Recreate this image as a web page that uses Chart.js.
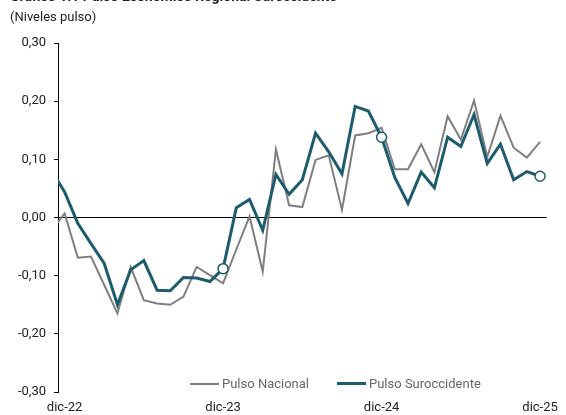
<!DOCTYPE html>
<html>
<head>
<meta charset="utf-8">
<script src="https://cdn.jsdelivr.net/npm/chart.js@4.4.1/dist/chart.umd.min.js"></script>
<style>
	body { margin: 0; width: 566px; height: 415px; overflow: hidden; background: #fff; font-family: Roboto, "Noto Sans", sans-serif; position: relative; }
	#wrap { position: absolute; left: 0; top: 0; width: 566px; height: 415px; }
	.title { position: absolute; left: 10px; top: -12px; font-size: 14px; font-weight: bold; color: #222; white-space: nowrap; }
	.sub { position: absolute; left: 10px; top: 9px; font-size: 13px; color: #222; }
	.legend { position: absolute; top: 376px; font-size: 13px; color: #666; white-space: nowrap; }
	.legend span.ln { display: inline-block; width: 29px; vertical-align: middle; margin-right: 3px; position: relative; top: -1px; }
</style>
</head>
<body>
<div id="wrap"><canvas id="chart" width="566" height="415"></canvas></div>
<div class="title">Gráfico 1.1 Pulso Económico Regional Suroccidente</div>
<div class="sub">(Niveles pulso)</div>
<div class="legend" style="left:190px"><span class="ln" style="border-top:2px solid #7f7f7f"></span>Pulso Nacional</div>
<div class="legend" style="left:337px"><span class="ln" style="border-top:3px solid #1d5c6e"></span>Pulso Suroccidente</div>
<script>
// meses (nov-22 queda recortado a la izquierda del eje)
const meses = [
	"nov-22", "dic-22",
	"ene-23", "feb-23", "mar-23", "abr-23", "may-23", "jun-23", "jul-23", "ago-23", "sep-23", "oct-23", "nov-23", "dic-23",
	"ene-24", "feb-24", "mar-24", "abr-24", "may-24", "jun-24", "jul-24", "ago-24", "sep-24", "oct-24", "nov-24", "dic-24",
	"ene-25", "feb-25", "mar-25", "abr-25", "may-25", "jun-25", "jul-25", "ago-25", "sep-25", "oct-25", "nov-25", "dic-25"
];

const pulsoNacional = [
	-0.023, 0.007,
	-0.069, -0.067, -0.116, -0.165, -0.085, -0.142, -0.148, -0.150, -0.136, -0.085, -0.099, -0.113,
	-0.055, 0.002, -0.093, 0.117, 0.021, 0.018, 0.099, 0.107, 0.013, 0.141, 0.145, 0.154,
	0.083, 0.083, 0.126, 0.078, 0.174, 0.134, 0.201, 0.104, 0.175, 0.120, 0.103, 0.130
];

const pulsoSuroccidente = [
	0.081, 0.044,
	-0.010, -0.045, -0.079, -0.150, -0.090, -0.074, -0.125, -0.126, -0.103, -0.104, -0.110, -0.088,
	0.017, 0.031, -0.022, 0.074, 0.040, 0.065, 0.145, 0.113, 0.075, 0.191, 0.183, 0.138,
	0.069, 0.024, 0.078, 0.051, 0.138, 0.122, 0.177, 0.093, 0.126, 0.065, 0.079, 0.071
];

// etiquetas del eje x (solo diciembres)
const etiquetasX = ["dic-22", "dic-23", "dic-24", "dic-25"];
const marcados = ["dic-23", "dic-24", "dic-25"];

const verde = "#1d5c6e";
const gris = "#7f7f7f";

// x = posicion del mes, dic-22 = 0
function toPoints(values) {
	return values.map((v, i) => ({ x: i - 1, y: v }));
}

const radios = meses.map((m) => (marcados.includes(m) ? 5 : 0));

new Chart(document.getElementById("chart"), {
	type: "line",
	data: {
		datasets: [
			{
				label: "Pulso Nacional",
				data: toPoints(pulsoNacional),
				borderColor: gris,
				borderWidth: 2,
				pointRadius: 0,
				tension: 0,
				order: 2,
				clip: { left: 0, right: false, top: false, bottom: false },
			},
			{
				label: "Pulso Suroccidente",
				data: toPoints(pulsoSuroccidente),
				borderColor: verde,
				borderWidth: 3,
				pointRadius: radios,
				pointBackgroundColor: "#fff",
				pointBorderColor: verde,
				pointBorderWidth: 1.5,
				tension: 0,
				order: 1,
				clip: { left: 0, right: false, top: false, bottom: false },
			},
		],
	},
	options: {
		responsive: false,
		animation: false,
		events: [],
		layout: { padding: { top: 43, right: 13, left: 0, bottom: 0 } },
		plugins: {
			legend: { display: false },
			tooltip: { enabled: false },
		},
		scales: {
			x: {
				type: "linear",
				min: -0.5,
				max: 36.5,
				afterBuildTicks: (scale) => {
					scale.ticks = etiquetasX.map((l) => ({ value: meses.indexOf(l) - 1 }));
				},
				afterFit: (scale) => {
					scale.height = 23;
				},
				border: { display: false },
				grid: { display: false, drawTicks: false },
				ticks: {
					autoSkip: false,
					maxRotation: 0,
					padding: 8,
					color: "#222",
					font: { family: "Roboto", size: 13 },
					callback: (v) => meses[v + 1],
				},
			},
			y: {
				min: -0.3,
				max: 0.3,
				afterFit: (scale) => {
					scale.width = 58;
				},
				border: { display: true, color: "#000", width: 1 },
				grid: {
					drawOnChartArea: true,
					color: (ctx) => (ctx.tick && Math.abs(ctx.tick.value) < 1e-9 ? "#000" : "rgba(0,0,0,0)"),
					tickColor: "#000",
					tickLength: 4,
				},
				ticks: {
					stepSize: 0.1,
					padding: 8,
					color: "#222",
					font: { family: "Roboto", size: 13 },
					callback: (v) => v.toFixed(2).replace(".", ","),
				},
			},
		},
	},
});
</script>
</body>
</html>
